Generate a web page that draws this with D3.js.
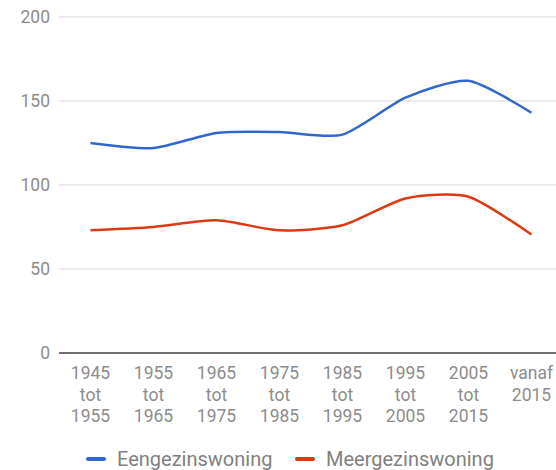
<!DOCTYPE html>
<html>
  <head>
    <script src="https://d3js.org/d3.v7.min.js"></script>
    <style>
      body { margin: 0; background: #fff; }
      svg { font-family: Roboto, "Noto Sans", sans-serif; }
      .grid line { stroke: #e3e3e3; stroke-width: 1.5px; }
      .axis text { fill: #8c8c8c; font-size: 17.5px; }
      .legend text { fill: #808080; font-size: 20px; }
    </style>
  </head>
  <body>
    <svg width="556" height="470"></svg>
    <script>
      const periods = [
        ["1945", "tot", "1955"], ["1955", "tot", "1965"], ["1965", "tot", "1975"],
        ["1975", "tot", "1985"], ["1985", "tot", "1995"], ["1995", "tot", "2005"],
        ["2005", "tot", "2015"], ["vanaf", "2015"]
      ];
      const eengezins = [125, 122, 131, 131.5, 130, 152, 162, 143];
      const meergezins = [73, 75, 79, 73, 76, 92, 93, 70.5];
      const yTicks = [0, 50, 100, 150, 200];
      const seriesNames = ["Eengezinswoning", "Meergezinswoning"];
      const colors = ["#3366cc", "#dc3912"];

      const svg = d3.select("svg");
      const margin = {top: 17, left: 59};
      const innerHeight = 336;

      const x = d3.scaleBand()
        .domain(d3.range(periods.length))
        .range([margin.left, margin.left + 63 * periods.length]);
      const y = d3.scaleLinear().domain([0, 200]).range([margin.top + innerHeight, margin.top]);

      // grid
      const grid = svg.append("g").attr("class", "grid");
      grid.selectAll("line").data(yTicks.filter(d => d > 0)).enter().append("line")
        .attr("x1", margin.left).attr("x2", 556)
        .attr("y1", d => y(d)).attr("y2", d => y(d));

      // y labels
      const yAxis = svg.append("g").attr("class", "axis");
      yAxis.selectAll("text").data(yTicks).enter().append("text")
        .attr("x", 50).attr("y", d => y(d))
        .attr("dy", "0.35em").attr("text-anchor", "end")
        .text(d => d);

      // x labels, one text per line
      const xAxis = svg.append("g").attr("class", "axis");
      const rows = [];
      periods.forEach((p, i) => p.forEach((t, j) => rows.push({i, j, t})));
      xAxis.selectAll("text").data(rows).enter().append("text")
        .attr("text-anchor", "middle")
        .attr("x", d => x(d.i) + x.bandwidth() / 2)
        .attr("y", d => 379 + d.j * 21.5)
        .text(d => d.t);

      // lines
      const line = d3.line()
        .x((d, i) => x(i) + x.bandwidth() / 2)
        .y(d => y(d))
        .curve(d3.curveCardinal.tension(0.3));
      [eengezins, meergezins].forEach((s, k) => {
        svg.append("path").datum(s)
          .attr("fill", "none")
          .attr("stroke", colors[k])
          .attr("stroke-width", 2.5)
          .attr("d", line);
      });

      // baseline
      svg.append("line")
        .attr("x1", margin.left).attr("x2", 556)
        .attr("y1", y(0)).attr("y2", y(0))
        .attr("stroke", "#6e6e6e").attr("stroke-width", 2);

      // legend
      const legendX = [88, 297];
      const legend = svg.append("g").attr("class", "legend");
      seriesNames.forEach((n, k) => {
        legend.append("line")
          .attr("x1", legendX[k]).attr("x2", legendX[k] + 16)
          .attr("y1", 459).attr("y2", 459)
          .attr("stroke", colors[k]).attr("stroke-width", 4)
          .attr("stroke-linecap", "round");
        legend.append("text")
          .attr("x", legendX[k] + 29).attr("y", 459)
          .attr("dy", "0.35em")
          .text(n);
      });
    </script>
  </body>
</html>
